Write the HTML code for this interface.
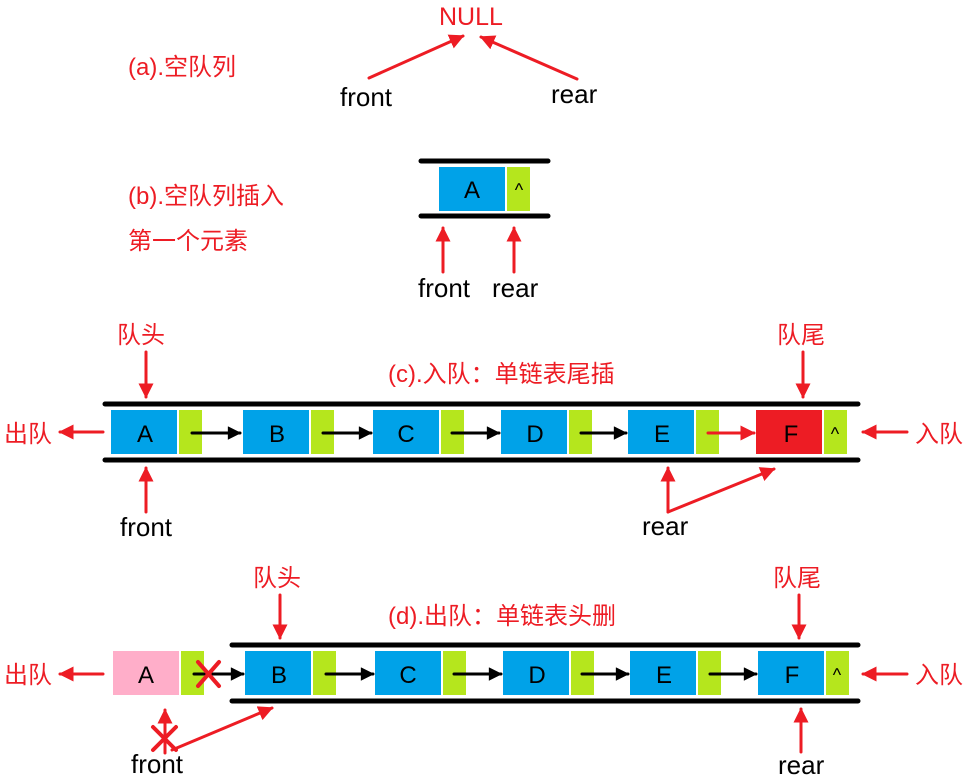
<!DOCTYPE html>
<html><head><meta charset="utf-8"><style>
html,body{margin:0;padding:0;background:#fff;}
svg{display:block;}
text{font-family:"Liberation Sans","Noto Sans CJK SC",sans-serif;}
.r{fill:#ed1c24;font-size:24px;}
.k{fill:#000;font-size:26px;}
.c{fill:#000;font-size:24px;text-anchor:middle;}
</style></head><body>
<svg width="972" height="779" viewBox="0 0 972 779" xmlns="http://www.w3.org/2000/svg">
<defs>
<marker id="ra" viewBox="0 0 10 10" refX="9" refY="5" markerWidth="5" markerHeight="5" orient="auto" markerUnits="strokeWidth"><path d="M0,0L10,5L0,10z" fill="#ed1c24"/></marker>
<marker id="ba" viewBox="0 0 10 10" refX="9" refY="5" markerWidth="5" markerHeight="4.5" orient="auto" markerUnits="strokeWidth"><path d="M0,0L10,5L0,10z" fill="#000"/></marker>
</defs>
<g stroke-linecap="round">
<!-- (a) -->
<text class="r" x="128" y="75">(a).空队列</text>
<text x="439" y="25" fill="#ed1c24" font-size="25" font-family="Liberation Sans">NULL</text>
<line x1="369" y1="78" x2="463" y2="36" stroke="#ed1c24" stroke-width="3" marker-end="url(#ra)"/>
<line x1="577" y1="79" x2="481" y2="37" stroke="#ed1c24" stroke-width="3" marker-end="url(#ra)"/>
<text class="k" x="340" y="106">front</text>
<text class="k" x="551" y="103">rear</text>
<!-- (b) -->
<text class="r" x="128" y="204">(b).空队列插入</text>
<text class="r" x="128" y="249">第一个元素</text>
<line x1="421" y1="161" x2="548" y2="161" stroke="#000" stroke-width="5"/>
<line x1="421" y1="216" x2="548" y2="216" stroke="#000" stroke-width="5"/>
<rect x="439" y="167" width="66" height="44" fill="#00a2e8"/>
<rect x="507" y="167" width="23" height="44" fill="#b5e61d"/>
<text class="c" x="472" y="198">A</text>
<text x="519" y="196" font-size="18" text-anchor="middle" font-family="Liberation Sans">^</text>
<line x1="443" y1="272" x2="443" y2="228" stroke="#ed1c24" stroke-width="3" marker-end="url(#ra)"/>
<line x1="514" y1="272" x2="514" y2="228" stroke="#ed1c24" stroke-width="3" marker-end="url(#ra)"/>
<text class="k" x="418" y="297">front</text>
<text class="k" x="492" y="297">rear</text>
<!-- (c) -->
<text class="r" x="117" y="343">队头</text>
<line x1="146" y1="352" x2="146" y2="397" stroke="#ed1c24" stroke-width="3" marker-end="url(#ra)"/>
<text class="r" x="388" y="382">(c).入队：单链表尾插</text>
<text class="r" x="777" y="343">队尾</text>
<line x1="803" y1="352" x2="803" y2="397" stroke="#ed1c24" stroke-width="3" marker-end="url(#ra)"/>
<line x1="105" y1="404" x2="858" y2="404" stroke="#000" stroke-width="5"/>
<line x1="105" y1="460" x2="858" y2="460" stroke="#000" stroke-width="5"/>
<text class="r" x="4" y="442">出队</text>
<line x1="103" y1="432" x2="60" y2="432" stroke="#ed1c24" stroke-width="3" marker-end="url(#ra)"/>
<text class="r" x="915" y="442">入队</text>
<line x1="907" y1="432" x2="863" y2="432" stroke="#ed1c24" stroke-width="3" marker-end="url(#ra)"/>
<rect x="111" y="410" width="66" height="44" fill="#00a2e8"/><rect x="179" y="410" width="23" height="44" fill="#b5e61d"/><text class="c" x="145" y="442">A</text>
<rect x="243" y="410" width="66" height="44" fill="#00a2e8"/><rect x="311" y="410" width="23" height="44" fill="#b5e61d"/><text class="c" x="277" y="442">B</text>
<rect x="373" y="410" width="66" height="44" fill="#00a2e8"/><rect x="441" y="410" width="23" height="44" fill="#b5e61d"/><text class="c" x="406" y="442">C</text>
<rect x="501" y="410" width="66" height="44" fill="#00a2e8"/><rect x="569" y="410" width="23" height="44" fill="#b5e61d"/><text class="c" x="535" y="442">D</text>
<rect x="628" y="410" width="66" height="44" fill="#00a2e8"/><rect x="696" y="410" width="23" height="44" fill="#b5e61d"/><text class="c" x="662" y="442">E</text>
<rect x="756" y="410" width="66" height="44" fill="#ed1c24"/><rect x="824" y="410" width="23" height="44" fill="#b5e61d"/><text class="c" x="791" y="442">F</text>
<text x="835" y="440" font-size="18" text-anchor="middle" font-family="Liberation Sans">^</text>
<line x1="192" y1="433" x2="240" y2="433" stroke="#000" stroke-width="3" marker-end="url(#ba)"/>
<line x1="323" y1="433" x2="371" y2="433" stroke="#000" stroke-width="3" marker-end="url(#ba)"/>
<line x1="452" y1="433" x2="499" y2="433" stroke="#000" stroke-width="3" marker-end="url(#ba)"/>
<line x1="581" y1="433" x2="626" y2="433" stroke="#000" stroke-width="3" marker-end="url(#ba)"/>
<line x1="708" y1="433" x2="754" y2="433" stroke="#ed1c24" stroke-width="3" marker-end="url(#ra)"/>
<line x1="146" y1="512" x2="146" y2="468" stroke="#ed1c24" stroke-width="3" marker-end="url(#ra)"/>
<text class="k" x="120" y="536">front</text>
<line x1="668" y1="512" x2="668" y2="468" stroke="#ed1c24" stroke-width="3" marker-end="url(#ra)"/>
<line x1="668" y1="512" x2="774" y2="469" stroke="#ed1c24" stroke-width="3" marker-end="url(#ra)"/>
<text class="k" x="642" y="535">rear</text>
<!-- (d) -->
<text class="r" x="253" y="586">队头</text>
<line x1="280" y1="595" x2="280" y2="638" stroke="#ed1c24" stroke-width="3" marker-end="url(#ra)"/>
<text class="r" x="388" y="624">(d).出队：单链表头删</text>
<text class="r" x="773" y="586">队尾</text>
<line x1="799" y1="595" x2="799" y2="638" stroke="#ed1c24" stroke-width="3" marker-end="url(#ra)"/>
<line x1="232" y1="645" x2="858" y2="645" stroke="#000" stroke-width="5"/>
<line x1="232" y1="701" x2="858" y2="701" stroke="#000" stroke-width="5"/>
<text class="r" x="4" y="683">出队</text>
<line x1="103" y1="674" x2="60" y2="674" stroke="#ed1c24" stroke-width="3" marker-end="url(#ra)"/>
<text class="r" x="915" y="683">入队</text>
<line x1="907" y1="674" x2="863" y2="674" stroke="#ed1c24" stroke-width="3" marker-end="url(#ra)"/>
<rect x="113" y="651" width="66" height="44" fill="#ffaec9"/><rect x="181" y="651" width="23" height="44" fill="#b5e61d"/><text class="c" x="146" y="683">A</text>
<rect x="245" y="651" width="66" height="44" fill="#00a2e8"/><rect x="313" y="651" width="23" height="44" fill="#b5e61d"/><text class="c" x="279" y="683">B</text>
<rect x="375" y="651" width="66" height="44" fill="#00a2e8"/><rect x="443" y="651" width="23" height="44" fill="#b5e61d"/><text class="c" x="408" y="683">C</text>
<rect x="503" y="651" width="66" height="44" fill="#00a2e8"/><rect x="571" y="651" width="23" height="44" fill="#b5e61d"/><text class="c" x="537" y="683">D</text>
<rect x="630" y="651" width="66" height="44" fill="#00a2e8"/><rect x="698" y="651" width="23" height="44" fill="#b5e61d"/><text class="c" x="664" y="683">E</text>
<rect x="758" y="651" width="66" height="44" fill="#00a2e8"/><rect x="826" y="651" width="23" height="44" fill="#b5e61d"/><text class="c" x="792" y="683">F</text>
<text x="837" y="681" font-size="18" text-anchor="middle" font-family="Liberation Sans">^</text>
<line x1="194" y1="674" x2="243" y2="674" stroke="#000" stroke-width="3" marker-end="url(#ba)"/>
<line x1="326" y1="674" x2="373" y2="674" stroke="#000" stroke-width="3" marker-end="url(#ba)"/>
<line x1="454" y1="674" x2="501" y2="674" stroke="#000" stroke-width="3" marker-end="url(#ba)"/>
<line x1="582" y1="674" x2="628" y2="674" stroke="#000" stroke-width="3" marker-end="url(#ba)"/>
<line x1="710" y1="674" x2="756" y2="674" stroke="#000" stroke-width="3" marker-end="url(#ba)"/>
<line x1="198" y1="662" x2="219" y2="686" stroke="#ed1c24" stroke-width="4"/>
<line x1="219" y1="662" x2="198" y2="686" stroke="#ed1c24" stroke-width="4"/>
<line x1="165" y1="753" x2="165" y2="710" stroke="#ed1c24" stroke-width="3" marker-end="url(#ra)"/>
<line x1="153" y1="727" x2="176" y2="750" stroke="#ed1c24" stroke-width="4"/>
<line x1="176" y1="727" x2="153" y2="750" stroke="#ed1c24" stroke-width="4"/>
<line x1="172" y1="750" x2="272" y2="708" stroke="#ed1c24" stroke-width="3" marker-end="url(#ra)"/>
<text class="k" x="131" y="773">front</text>
<line x1="801" y1="752" x2="801" y2="709" stroke="#ed1c24" stroke-width="3" marker-end="url(#ra)"/>
<text class="k" x="778" y="774">rear</text>
</g>
</svg>
</body></html>
